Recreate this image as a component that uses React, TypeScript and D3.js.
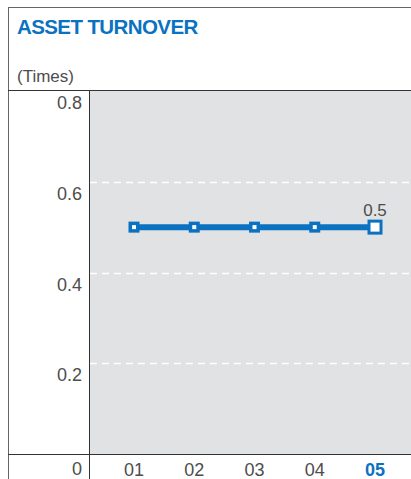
import React from "react";
import * as d3 from "d3";

// chart values
const years = ["01", "02", "03", "04", "05"];
const turnover = [0.5, 0.5, 0.5, 0.5, 0.5];
const yTicks = [0.2, 0.4, 0.6, 0.8];
const gridTicks = [0.2, 0.4, 0.6];

const W = 411;
const H = 479;
const blue = "#0a72c1";
const textGrey = "#4d4d4d";

function App() {
  const y = d3.scaleLinear().domain([0, 0.8]).range([454, 91]);
  const x = d3.scalePoint<string>().domain(years).range([134, 375]);

  const pts = years.map((yr, i) => [x(yr) as number, y(turnover[i])] as [number, number]);
  const line = d3.line();
  const last = pts[pts.length - 1];

  return (
    <svg
      width={W}
      height={H}
      style={{ position: "absolute", left: 0, top: 0 }}
      fontFamily="'Liberation Sans', Arial, sans-serif"
    >
      <rect x={0} y={0} width={W} height={H} fill="#fff" />
      {/* outer frame */}
      <line x1={8} y1={7.5} x2={W} y2={7.5} stroke="#666" strokeWidth={1} />
      <line x1={8.5} y1={7} x2={8.5} y2={H} stroke="#666" strokeWidth={1} />

      <text x={17} y={34} fill={blue} fontSize={20.5} fontWeight="bold" letterSpacing={-0.6}>
        ASSET TURNOVER
      </text>
      <text x={17} y={82} fill={textGrey} fontSize={17}>(Times)</text>

      {/* plot area */}
      <rect x={89.5} y={90.5} width={W - 89.5} height={363.5} fill="#e1e2e4" />
      <line x1={8} y1={90.5} x2={W} y2={90.5} stroke="#333" strokeWidth={1} />
      <line x1={8} y1={454.5} x2={W} y2={454.5} stroke="#333" strokeWidth={1} />
      <line x1={89.5} y1={90} x2={89.5} y2={H} stroke="#333" strokeWidth={1} />

      {gridTicks.map((t) => (
        <line
          key={t}
          x1={90}
          x2={W}
          y1={Math.round(y(t)) + 0.5}
          y2={Math.round(y(t)) + 0.5}
          stroke="#fff"
          strokeWidth={1.3}
          strokeDasharray="7 5"
        />
      ))}

      {yTicks.map((t) => (
        <text
          key={t}
          x={82}
          y={y(t) + 18}
          textAnchor="end"
          fontSize={18}
          fill={textGrey}
        >
          {t.toFixed(1)}
        </text>
      ))}
      <text x={82} y={475} textAnchor="end" fontSize={18} fill={textGrey}>0</text>

      {years.map((yr, i) => (
        <text
          key={yr}
          x={x(yr) as number}
          y={476}
          textAnchor="middle"
          fontSize={18}
          fontWeight={i === years.length - 1 ? "bold" : "normal"}
          fill={i === years.length - 1 ? blue : textGrey}
        >
          {yr}
        </text>
      ))}

      <path d={line(pts) || ""} fill="none" stroke={blue} strokeWidth={6} />
      {pts.map((p, i) => {
        const big = i === pts.length - 1;
        const s = big ? 12 : 7.5;
        return (
          <rect
            key={i}
            x={p[0] - s / 2}
            y={p[1] - s / 2}
            width={s}
            height={s}
            fill="#fff"
            stroke={blue}
            strokeWidth={big ? 3 : 3.5}
          />
        );
      })}
      <text x={last[0]} y={last[1] - 11} textAnchor="middle" fontSize={17} fill={textGrey}>
        {turnover[turnover.length - 1].toFixed(1)}
      </text>
    </svg>
  );
}

export default App;
